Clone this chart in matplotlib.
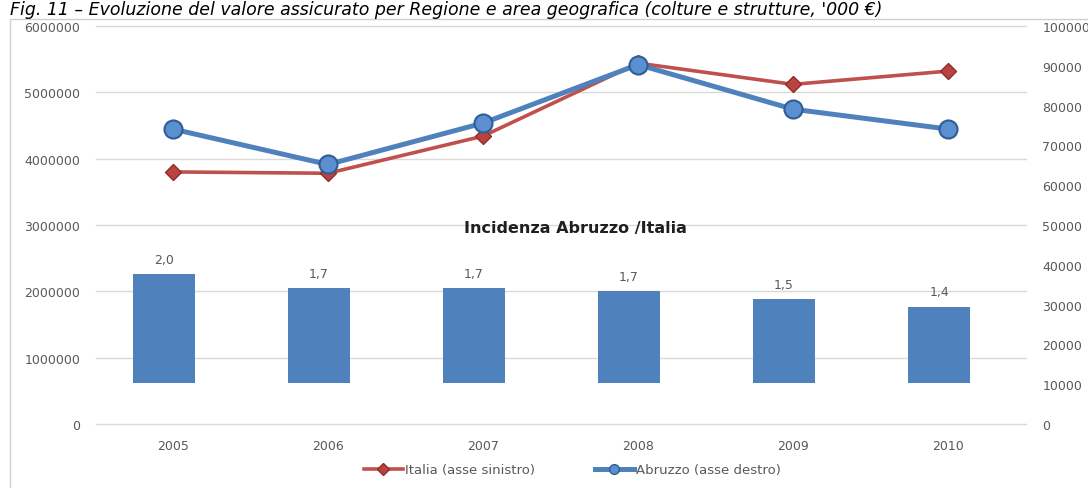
import matplotlib
matplotlib.use("Agg")
import matplotlib.pyplot as plt
from matplotlib.lines import Line2D
from matplotlib.patches import Rectangle

# dati
anni = ["2005", "2006", "2007", "2008", "2009", "2010"]
italia = [3800000, 3780000, 4340000, 5440000, 5120000, 5320000]   # asse sinistro
abruzzo = [74100, 65200, 75600, 90300, 79100, 74100]              # asse destro
incidenza = [2.0, 1.74, 1.74, 1.69, 1.54, 1.40]                   # Abruzzo / Italia (%)

rosso = "#C0504D"
blu = "#4F81BD"
grigio = "#595959"

plt.rcParams["font.family"] = ["DejaVu Sans"]

fig = plt.figure(figsize=(10.88, 4.89), dpi=100)

# cornice
fig.patches.append(Rectangle((10 / 1088, -0.1), 1.2, 1 - 20 / 489 + 0.1,
                             transform=fig.transFigure, fill=False,
                             edgecolor="#D0D0D0", linewidth=1))

fig.text(10 / 1088, 1 - 15 / 489,
         "Fig. 11 – Evoluzione del valore assicurato per Regione e area geografica (colture e strutture, '000 €)",
         fontsize=12.5, style="italic", color="black", va="baseline", ha="left")

ax = fig.add_axes([0.0878, 0.1309, 0.8548, 0.8139])
x = list(range(len(anni)))

ax.set_xlim(-0.5, 5.5)
ax.set_ylim(0, 6000000)
ax.set_yticks(range(0, 6000001, 1000000))
ax.set_yticklabels([str(v) for v in range(0, 6000001, 1000000)])
ax.set_xticks(x)
ax.set_xticklabels(anni)
ax.grid(axis="y", color="#D9D9D9", linewidth=1)
for g in ax.get_ygridlines():
    g.set_clip_on(False)
ax.set_axisbelow(True)
for s in ax.spines.values():
    s.set_visible(False)
ax.tick_params(length=0, labelsize=9, labelcolor=grigio)
ax.tick_params(axis="y", pad=11)
ax.tick_params(axis="x", pad=11)

# barre dell'incidenza
axb = ax.inset_axes([0, 0.103, 1, 0.897])
axb.set_xlim(-0.5, 5.5)
axb.set_ylim(0, 6.55)
axb.axis("off")
barre = axb.bar([i - 0.058 for i in x], incidenza, width=0.4, color=blu)
axb.bar_label(barre, labels=[f"{v:.1f}".replace(".", ",") for v in incidenza],
              padding=6, fontsize=9, color=grigio)
fig.text(575 / 1088, 1 - 229 / 489, "Incidenza Abruzzo /Italia", ha="center",
         va="center", fontsize=11.5, fontweight="bold", color="#1F1F1F")

ax.plot(x, italia, color=rosso, linewidth=2.6, marker="D", markersize=8,
        markerfacecolor="#B8433F", markeredgecolor="#8E2E2B", zorder=3)

ax2 = ax.twinx()
ax2.set_ylim(0, 100000)
ax2.set_yticks(range(0, 100001, 10000))
for s in ax2.spines.values():
    s.set_visible(False)
ax2.tick_params(length=0, labelsize=9, labelcolor=grigio, pad=12)
ax2.plot(x, abruzzo, color=blu, linewidth=3.6, marker="o", markersize=13,
         markerfacecolor="#5B8FD0", markeredgecolor="#2E5E96", markeredgewidth=1.5)

maniglie = [
    Line2D([], [], color=rosso, linewidth=2.6, marker="D", markersize=6,
           markerfacecolor="#B8433F", markeredgecolor="#8E2E2B"),
    Line2D([], [], color=blu, linewidth=3.6, marker="o", markersize=7,
           markerfacecolor="#5B8FD0", markeredgecolor="#2E5E96"),
]
fig.legend(maniglie, ["Italia (asse sinistro)", "Abruzzo (asse destro)"],
           loc="center", bbox_to_anchor=(0.526, 0.037), ncol=2, frameon=False,
           fontsize=9.5, labelcolor=grigio, handlelength=3, handletextpad=0.15,
           columnspacing=4.5)

fig.savefig("out.png", dpi=100)
